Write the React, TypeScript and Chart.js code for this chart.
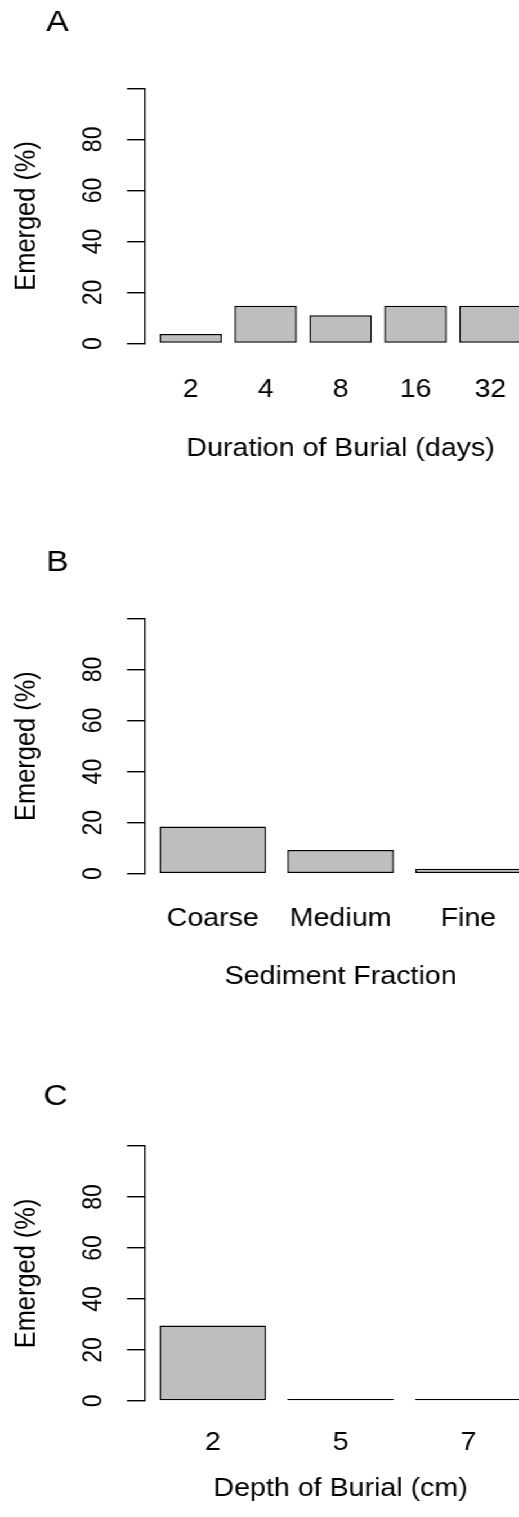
import React, { useEffect, useRef } from 'react';
import { Chart, registerables } from 'chart.js';

Chart.register(...registerables);

const FONT = '"Liberation Sans", Arial, Helvetica, sans-serif';

// ---- Data ----
// Panel A: Duration of burial
const durationCategories = ['2', '4', '8', '16', '32'];
const durationEmerged = [3.7, 14.8, 11.1, 14.8, 14.8];

// Panel B: Sediment fraction
const sedimentCategories = ['Coarse', 'Medium', 'Fine'];
const sedimentEmerged = [18.5, 9.3, 1.9];

// Panel C: Depth of burial
const depthCategories = ['2', '5', '7'];
const depthEmerged = [29.6, 0, 0];

// Axis ticks / labels
const yTickValues = [0, 20, 40, 60, 80, 100];
const yTickLabels = ['0', '20', '40', '60', '80', ''];
const yTitle = 'Emerged (%)';
const panelLetters = ['A', 'B', 'C'];
const xTitles = ['Duration of Burial (days)', 'Sediment Fraction', 'Depth of Burial (cm)'];

// ---- Layout (positions / sizes only) ----
const STRETCH = 1.126;
const CANVAS_W = 500;
const AXIS_X = 128.8;
const AREA_RIGHT = 476.2;
const LABEL_SIZE = 25.4;
const YTICK_SIZE = 23;

type Layout = {
  top: number; height: number; padTop: number; xAxisH: number;
  tickPad: number; titlePad: number; letterX: number; letterY: number;
};

const layouts: Layout[] = [
  { top: 0, height: 480, padTop: 88.3, xAxisH: 136.5, tickPad: 31.3, titlePad: 15.3, letterX: 41, letterY: 31 },
  { top: 500, height: 500, padTop: 118.5, xAxisH: 126.3, tickPad: 30.3, titlePad: 7.5, letterX: 41, letterY: 71 },
  { top: 1010, height: 507, padTop: 136, xAxisH: 116.1, tickPad: 26.4, titlePad: 12.5, letterX: 38.5, letterY: 94.5 },
];

function Panel(props: { categories: string[]; values: number[]; letter: string; xTitle: string; layout: Layout }) {
  const { categories, values, letter, xTitle, layout } = props;
  const ref = useRef<HTMLCanvasElement | null>(null);

  useEffect(() => {
    if (!ref.current) return;
    const n = categories.length;
    // R barplot geometry: bar width 1, space 0.2, axis range extended 4%
    const span = 1.2 * n - 0.2;
    const ext = 0.04 * span;
    const xMin = (0.2 - ext - 0.7) / 1.2;
    const xMax = (1.2 * n + ext - 0.7) / 1.2;

    const letterPlugin = {
      id: 'panelLetter',
      afterDraw(chart: any) {
        const ctx = chart.ctx;
        ctx.save();
        ctx.font = `30px ${FONT}`;
        ctx.fillStyle = '#000';
        ctx.textAlign = 'left';
        ctx.textBaseline = 'alphabetic';
        ctx.fillText(letter, layout.letterX, layout.letterY);
        ctx.restore();
      },
    };

    const chart = new Chart(ref.current, {
      type: 'bar',
      data: {
        datasets: [
          {
            data: values.map((v, i) => ({ x: i, y: v })),
            backgroundColor: '#BEBEBE',
            borderColor: '#000000',
            borderWidth: 1.5,
            borderSkipped: false,
            minBarLength: 2,
            categoryPercentage: 1,
            barPercentage: 1 / 1.2,
            clip: false,
          } as any,
        ],
      },
      options: {
        responsive: false,
        animation: false,
        devicePixelRatio: 1,
        layout: { padding: { top: layout.padTop, left: 0, right: CANVAS_W - AREA_RIGHT, bottom: 0 } },
        plugins: { legend: { display: false }, tooltip: { enabled: false }, title: { display: false } },
        scales: {
          x: {
            type: 'linear',
            min: xMin,
            max: xMax,
            offset: false,
            grid: { display: false, drawTicks: false },
            border: { display: false },
            afterBuildTicks: (s: any) => {
              s.ticks = categories.map((_, i) => ({ value: i }));
            },
            afterFit: (s: any) => {
              s.height = layout.xAxisH;
            },
            ticks: {
              autoSkip: false,
              maxRotation: 0,
              minRotation: 0,
              padding: layout.tickPad,
              color: '#000',
              font: { family: FONT, size: LABEL_SIZE },
              callback: (v: any) => categories[v] ?? '',
            },
            title: {
              display: true,
              text: xTitle,
              color: '#000',
              font: { family: FONT, size: LABEL_SIZE },
              padding: { top: 0, bottom: layout.titlePad },
            },
          },
          y: {
            type: 'linear',
            min: 0,
            max: 100,
            afterBuildTicks: (s: any) => {
              s.ticks = yTickValues.map((v) => ({ value: v }));
            },
            afterFit: (s: any) => {
              s.width = AXIS_X;
            },
            grid: { display: true, drawOnChartArea: false, drawTicks: true, tickLength: 16, color: '#000', lineWidth: 1.4 },
            border: { display: true, color: '#000', width: 1.3 },
            ticks: {
              autoSkip: false,
              minRotation: 90,
              maxRotation: 90,
              crossAlign: 'center',
              padding: 16.4,
              color: '#000',
              font: { family: FONT, size: YTICK_SIZE },
              callback: (v: any) => {
                const k = yTickValues.indexOf(Number(v));
                return k >= 0 ? yTickLabels[k] : '';
              },
            },
            title: {
              display: true,
              text: yTitle,
              color: '#000',
              font: { family: FONT, size: LABEL_SIZE },
              padding: { top: 8.8, bottom: 0 },
            },
          },
        },
      } as any,
      plugins: [letterPlugin],
    });
    return () => chart.destroy();
  }, []);

  return (
    <canvas
      ref={ref}
      width={CANVAS_W}
      height={layout.height}
      style={{ position: 'absolute', left: 0, top: layout.top, width: CANVAS_W, height: layout.height }}
    />
  );
}

export default function App() {
  const panels = [
    { categories: durationCategories, values: durationEmerged },
    { categories: sedimentCategories, values: sedimentEmerged },
    { categories: depthCategories, values: depthEmerged },
  ];
  return (
    <div style={{ position: 'absolute', left: 0, top: 0, width: 519, height: 1517, overflow: 'hidden', background: '#fff' }}>
      <div style={{ position: 'absolute', left: 0, top: 0, width: CANVAS_W, height: 1517, transform: `scaleX(${STRETCH})`, transformOrigin: '0 0' }}>
        {panels.map((p, i) => (
          <Panel
            key={i}
            categories={p.categories}
            values={p.values}
            letter={panelLetters[i]}
            xTitle={xTitles[i]}
            layout={layouts[i]}
          />
        ))}
      </div>
    </div>
  );
}
